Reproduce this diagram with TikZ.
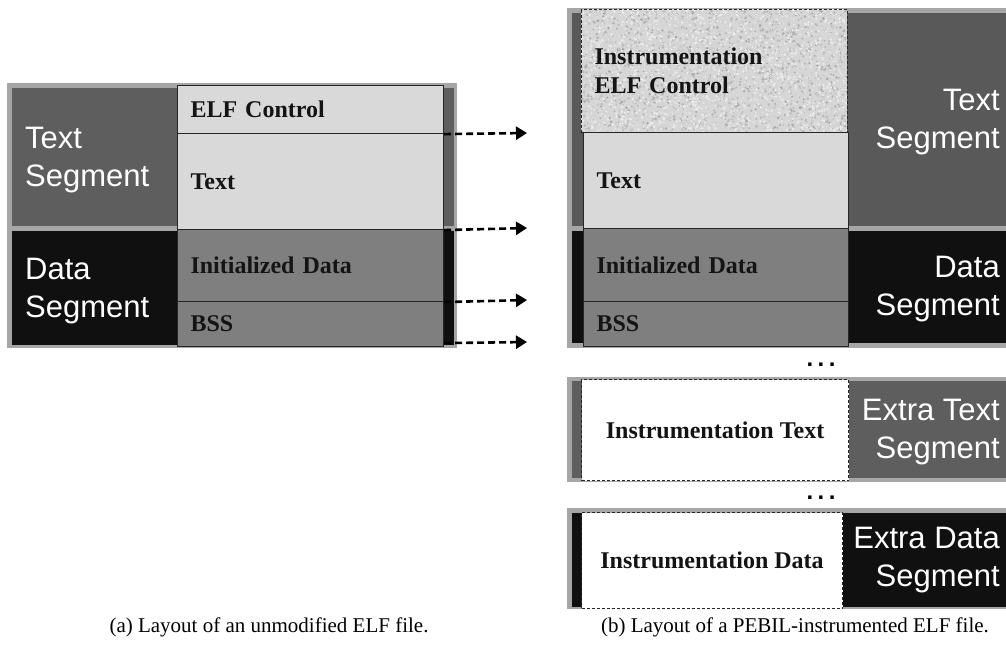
\documentclass[tikz,border=0pt]{standalone}
\usepackage{fontspec}
\setmainfont{Liberation Serif}
\newfontfamily\sansf{Liberation Sans}
\usetikzlibrary{arrows.meta}
\definecolor{bord}{HTML}{A6A6A6}
\definecolor{tseg}{HTML}{5E5E5E}
\definecolor{dseg}{HTML}{101010}
\definecolor{lbox}{HTML}{D9D9D9}
\definecolor{mbox}{HTML}{7F7F7F}
\definecolor{noisebase}{HTML}{D6D6D6}
\begin{document}
\begin{tikzpicture}[x=1pt,y=-1pt,
  secbox/.style={draw=black!85, line width=1.1pt, inner ysep=0pt, inner xsep=13pt,
    anchor=north west, align=left, font=\fontsize{24}{29}\selectfont\bfseries, text=black!92},
  instbox/.style={draw=black!85, line width=1.1pt, dash pattern=on 3pt off 2pt, inner sep=0pt,
    anchor=north west, align=center, font=\fontsize{24}{29}\selectfont\bfseries, text=black!92},
  seglab/.style={inner sep=0pt, text=white, font=\sansf\fontsize{31}{38}\selectfont},
  arr/.style={line width=2.6pt, dash pattern=on 7pt off 4pt, -{Triangle[length=11pt,width=13pt]}},
  dotsl/.style={inner sep=0pt, anchor=base, font=\sansf\bfseries\fontsize{24}{28}\selectfont},
  caption/.style={inner sep=0pt, anchor=base, font=\fontsize{21}{24}\selectfont}
]
\fill[white] (0,0) rectangle (1006,649);
\useasboundingbox (0,0) rectangle (1006,649);

% ---------- left diagram backgrounds
\fill[bord] (7,83) rectangle (457,348);
\fill[tseg] (12,88) rectangle (454,226);
\fill[dseg] (12,231) rectangle (454,345);

% ---------- left boxes
\node[secbox, fill=lbox, minimum width=266pt, minimum height=48pt, text width=240pt] (elfL) at (177,85) {ELF Control};
\node[secbox, fill=lbox, minimum width=266pt, minimum height=96pt, text width=240pt] (textL) at (177,133) {Text};
\node[secbox, fill=mbox, minimum width=266pt, minimum height=72pt, text width=240pt] (initL) at (177,229) {Initialized Data};
\node[secbox, fill=mbox, minimum width=266pt, minimum height=45pt, text width=240pt] (bssL) at (177,301) {BSS};

\node[seglab, anchor=north west, align=left] (tsL) at (25,126.5) {Text\\Segment};
\node[seglab, anchor=north west, align=left] (dsL) at (25,257.5) {Data\\Segment};

% ---------- arrows
\coordinate (a1) at (527,133);
\coordinate (a2) at (527,228);
\coordinate (a3) at (527,300);
\coordinate (a4) at (527,342);
\draw[arr] (elfL.south east) -- (a1);
\draw[arr] (textL.south east) -- (a2);
\draw[arr] (initL.south east) -- (a3);
\draw[arr] ([yshift=4pt]bssL.south east) -- (a4);

% ---------- right diagram backgrounds
\fill[bord] (567,8) rectangle (1006,348);
\fill[tseg!95!black] (572,13) rectangle (1006,226);
\fill[dseg] (572,231) rectangle (1006,343);

% noise texture
\begin{scope}
\clip (581,9) rectangle (847,132);
\fill[noisebase] (581,9) rectangle (847,132);
\pgfmathsetseed{12}
\foreach \i in {1,...,2600}{
  \pgfmathsetmacro{\px}{581+266*rnd}
  \pgfmathsetmacro{\py}{9+123*rnd}
  \pgfmathsetmacro{\g}{int(14+22*rnd)}
  \pgfmathsetmacro{\r}{0.5+1.0*rnd}
  \fill[black!\g!white] (\px,\py) circle (\r pt);
}
\foreach \i in {1,...,1600}{
  \pgfmathsetmacro{\px}{581+266*rnd}
  \pgfmathsetmacro{\py}{9+123*rnd}
  \pgfmathsetmacro{\r}{0.5+1.0*rnd}
  \fill[white!92!black] (\px,\py) circle (\r pt);
}
\end{scope}

\node[secbox, dash pattern=on 3pt off 2pt, minimum width=266pt, minimum height=123pt, text width=240pt] (ielfR) at (581,9) {Instrumentation\\ELF Control};
\node[secbox, fill=lbox, minimum width=265pt, minimum height=96pt, text width=239pt] (textR) at (583,132) {Text};
\node[secbox, fill=mbox, minimum width=265pt, minimum height=73pt, text width=239pt] (initR) at (583,228) {Initialized Data};
\node[secbox, fill=mbox, minimum width=265pt, minimum height=45pt, text width=239pt] (bssR) at (583,301) {BSS};

\node[seglab, anchor=north east, align=right] (tsR) at (1000,88.5) {Text\\Segment};
\node[seglab, anchor=north east, align=right] (dsR) at (1000,255.5) {Data\\Segment};

\node[dotsl] (dots1) at (821,366) {.\hspace{4.5pt}.\hspace{4.5pt}.};

% ---------- extra text segment
\fill[bord] (567,377) rectangle (1006,482);
\fill[tseg] (572,381) rectangle (1006,478);
\node[instbox, fill=white, minimum width=267pt, minimum height=101pt] (itextR) at (581,379) {Instrumentation Text};
\node[seglab, anchor=north east, align=right] (etR) at (1000,398.5) {Extra Text\\Segment};

\node[dotsl] (dots2) at (821,499) {.\hspace{4.5pt}.\hspace{4.5pt}.};

% ---------- extra data segment
\fill[bord] (567,508) rectangle (1006,609);
\fill[dseg] (572,513) rectangle (1006,607);
\node[instbox, fill=white, minimum width=261pt, minimum height=96pt] (idataR) at (581,512) {Instrumentation Data};
\node[seglab, anchor=north east, align=right] (edR) at (1000,526.5) {Extra Data\\Segment};

% ---------- captions
\node[caption] (capA) at (269,632) {(a) Layout of an unmodified ELF file.};
\node[caption] (capB) at (795,632) {(b) Layout of a PEBIL-instrumented ELF file.};
\end{tikzpicture}
\end{document}
